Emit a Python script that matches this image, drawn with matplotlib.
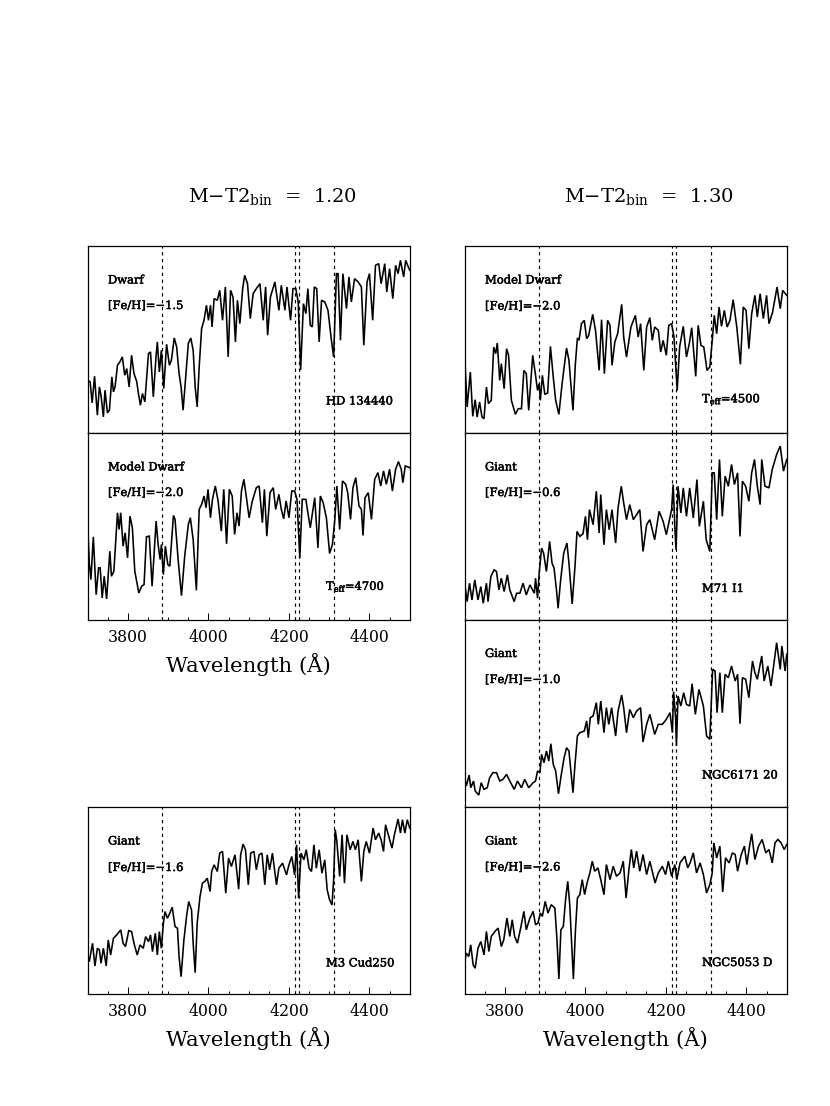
import matplotlib
matplotlib.use("Agg")
import matplotlib.pyplot as plt
import matplotlib.patheffects as pe

# ==============================
# Spectra (wavelength in A, flux in arbitrary units)
# ==============================
wave_hd134440 = [3700,3706,3711,3717,3724,3729,3733,3739,3743,3749,3754,3760,3764,3768,3774,3780,3786,3792,3797,3803,3809,3815,3822,3826,3831,3836,3842,3851,3856,3863,3870,3873,3878,3883,3889,3896,3903,3908,3915,3921,3927,3932,3937,3944,3950,3956,3962,3967,3972,3977,3983,3989,3995,4000,4005,4009,4014,4022,4028,4035,4042,4049,4055,4061,4067,4072,4078,4085,4090,4097,4104,4111,4119,4128,4136,4142,4147,4154,4165,4175,4181,4190,4195,4204,4210,4217,4223,4229,4236,4242,4247,4253,4258,4263,4269,4275,4281,4289,4297,4305,4311,4318,4322,4328,4334,4343,4349,4355,4363,4372,4380,4386,4394,4400,4408,4415,4423,4429,4438,4443,4450,4458,4465,4471,4477,4485,4490,4500]
flux_hd134440 = [157,152,89,169,52,137,112,47,127,59,67,167,122,137,202,212,227,172,192,137,232,177,152,117,82,117,92,237,242,107,232,272,182,247,132,265,202,217,284,257,177,137,67,177,267,284,247,137,77,197,312,337,382,337,382,317,402,397,427,337,437,227,427,407,272,397,327,432,472,447,342,417,432,447,337,437,292,407,452,367,442,367,437,337,432,432,392,187,387,357,432,322,317,437,432,272,397,392,367,282,227,477,477,277,477,372,467,392,462,452,437,262,452,477,337,502,507,447,507,422,492,402,502,477,517,467,517,487]

wave_model4700 = [3700,3704,3708,3714,3721,3727,3731,3736,3741,3747,3755,3759,3765,3774,3778,3782,3788,3793,3799,3805,3811,3817,3827,3834,3840,3846,3853,3860,3870,3875,3880,3883,3888,3893,3899,3904,3913,3917,3925,3933,3941,3950,3955,3962,3970,3977,3983,3989,3994,3999,4005,4010,4017,4024,4032,4038,4045,4052,4059,4065,4071,4076,4082,4088,4095,4101,4109,4119,4126,4134,4139,4145,4153,4161,4167,4175,4181,4187,4193,4200,4207,4214,4220,4227,4233,4242,4247,4253,4264,4272,4278,4285,4293,4301,4308,4314,4319,4326,4333,4341,4346,4353,4359,4366,4374,4380,4384,4389,4397,4405,4413,4421,4428,4435,4442,4450,4457,4465,4472,4479,4483,4489,4500]
flux_model4700 = [280,170,120,248,75,155,155,65,130,62,205,130,145,320,270,320,220,260,185,310,275,145,80,100,105,248,250,100,295,225,180,225,135,220,165,160,312,300,175,72,190,285,305,240,88,330,345,370,335,390,305,360,400,355,265,390,227,390,370,255,320,280,385,420,360,305,355,395,400,290,390,250,380,395,330,375,330,302,355,305,385,385,360,185,360,360,320,275,365,215,370,350,305,198,225,300,400,270,415,405,380,300,395,425,340,330,252,365,380,300,420,440,400,445,405,450,385,450,473,450,410,460,455]

wave_m3 = [3700,3704,3712,3718,3724,3729,3733,3739,3746,3751,3757,3764,3772,3782,3788,3794,3802,3809,3816,3823,3830,3838,3844,3851,3856,3861,3868,3873,3878,3883,3888,3892,3898,3904,3910,3917,3923,3927,3932,3939,3946,3951,3958,3962,3967,3972,3979,3985,3991,3997,4004,4008,4014,4022,4028,4035,4043,4050,4057,4066,4075,4080,4086,4092,4099,4105,4113,4119,4126,4133,4140,4146,4152,4159,4169,4175,4184,4194,4200,4207,4214,4219,4224,4230,4237,4243,4250,4256,4262,4268,4275,4282,4289,4295,4301,4307,4311,4315,4319,4326,4332,4338,4344,4352,4359,4365,4372,4380,4386,4392,4400,4409,4415,4423,4429,4435,4440,4448,4456,4462,4471,4477,4482,4488,4494,4500]
flux_m3 = [116,96,151,83,136,131,91,136,83,161,116,166,176,191,151,141,189,186,146,116,146,136,171,156,176,126,181,116,186,136,211,246,226,241,259,201,196,111,51,161,236,276,251,151,63,211,291,331,336,346,306,366,386,366,421,426,301,406,381,416,313,416,448,431,326,421,426,371,416,421,326,416,371,421,326,376,391,356,386,411,356,446,286,421,401,431,376,366,446,376,431,361,401,311,281,266,341,491,456,351,476,331,476,431,456,431,461,336,426,456,421,496,461,481,461,426,506,471,436,476,523,481,521,481,521,496]

wave_model4500 = [3700,3706,3714,3720,3726,3731,3737,3743,3748,3754,3759,3766,3772,3777,3781,3787,3791,3798,3804,3809,3816,3826,3833,3841,3847,3853,3859,3869,3876,3881,3885,3888,3893,3899,3906,3913,3920,3926,3934,3942,3953,3959,3969,3975,3980,3984,3990,3997,4003,4008,4018,4025,4034,4040,4047,4055,4061,4066,4073,4080,4090,4095,4102,4113,4124,4131,4137,4145,4152,4160,4166,4172,4181,4187,4193,4201,4207,4214,4220,4228,4234,4243,4251,4258,4264,4274,4280,4287,4294,4302,4309,4315,4320,4326,4332,4338,4345,4352,4359,4367,4376,4385,4392,4399,4406,4413,4421,4427,4434,4442,4450,4456,4465,4476,4484,4490,4500]
flux_model4500 = [232,77,182,49,99,47,92,47,42,137,87,97,257,237,269,157,207,132,252,232,97,55,72,72,187,177,67,232,172,127,147,97,172,115,119,259,167,97,55,147,254,217,67,207,284,277,327,337,282,292,355,307,187,339,177,337,322,202,272,297,385,287,227,317,352,287,327,187,317,345,277,317,307,242,277,232,322,327,287,127,257,319,227,267,315,169,322,262,257,187,197,277,352,297,377,319,367,317,337,399,317,205,377,367,252,357,412,347,417,342,412,327,362,437,372,427,412]

wave_m71 = [3700,3706,3712,3718,3725,3733,3740,3746,3754,3758,3765,3773,3779,3785,3791,3798,3806,3812,3823,3829,3837,3845,3853,3862,3873,3876,3881,3885,3891,3896,3903,3911,3917,3922,3928,3932,3938,3946,3954,3959,3967,3974,3979,3986,3994,4000,4005,4010,4019,4027,4034,4038,4046,4052,4059,4066,4075,4081,4089,4095,4102,4110,4119,4127,4135,4143,4152,4160,4172,4183,4193,4201,4214,4218,4222,4225,4230,4237,4243,4251,4259,4268,4277,4283,4293,4300,4309,4315,4320,4326,4333,4340,4347,4355,4363,4370,4378,4384,4390,4398,4406,4413,4420,4427,4434,4438,4446,4456,4464,4475,4484,4492,4500]
flux_m71 = [110,55,110,60,120,60,100,50,110,55,130,150,145,90,125,85,135,90,55,80,80,110,75,105,80,125,65,140,215,200,145,235,170,155,90,35,115,200,230,170,48,160,265,250,258,310,240,330,285,385,260,375,225,330,270,330,230,335,400,350,300,345,300,315,330,205,285,300,240,325,295,255,330,405,280,210,400,320,395,310,395,305,420,280,355,240,205,440,440,300,480,310,430,400,465,405,440,250,415,400,355,440,480,400,345,480,400,395,450,495,520,445,480]

wave_ngc6171 = [3700,3704,3711,3715,3722,3726,3735,3741,3748,3756,3762,3770,3779,3787,3795,3804,3812,3823,3831,3841,3849,3859,3870,3876,3881,3887,3891,3897,3903,3909,3914,3920,3926,3933,3940,3947,3953,3959,3969,3974,3980,3986,3997,4003,4007,4012,4019,4027,4032,4038,4046,4052,4058,4065,4075,4081,4090,4095,4102,4110,4119,4127,4137,4143,4152,4160,4172,4181,4191,4201,4210,4216,4219,4224,4226,4230,4237,4244,4251,4259,4265,4273,4282,4293,4301,4309,4316,4322,4327,4334,4340,4347,4355,4363,4372,4378,4384,4390,4398,4406,4415,4421,4427,4438,4444,4453,4461,4467,4475,4484,4488,4496,4500]
flux_ngc6171 = [87,62,95,57,77,47,35,72,52,57,87,102,102,77,82,97,77,52,77,57,82,57,72,77,107,102,157,132,167,137,189,127,107,39,97,147,177,167,42,127,212,222,227,257,207,267,272,312,247,317,222,297,247,297,212,287,335,297,222,292,267,287,297,194,247,277,217,247,247,262,282,222,345,267,182,332,302,342,307,302,369,277,352,302,212,202,412,407,282,402,282,397,387,422,377,397,249,387,382,327,437,402,382,452,377,422,362,417,492,412,482,407,457]

wave_ngc5053 = [3700,3704,3710,3715,3721,3726,3733,3740,3748,3754,3760,3766,3775,3783,3791,3797,3805,3812,3818,3824,3831,3839,3847,3853,3862,3870,3876,3882,3888,3893,3900,3907,3915,3924,3929,3934,3939,3945,3951,3956,3961,3970,3975,3980,3986,3992,3998,4004,4011,4017,4023,4031,4038,4046,4052,4061,4069,4077,4086,4094,4101,4108,4114,4120,4127,4135,4143,4152,4160,4173,4181,4191,4199,4206,4214,4222,4227,4235,4247,4254,4260,4268,4276,4285,4293,4301,4309,4315,4319,4326,4334,4341,4348,4357,4365,4372,4378,4387,4395,4401,4407,4413,4421,4430,4439,4448,4456,4464,4471,4478,4486,4494,4500]
flux_ngc5053 = [97,122,112,147,87,77,137,157,117,187,127,172,187,197,142,162,227,172,222,172,152,197,247,192,227,247,207,212,242,232,277,242,267,257,167,45,192,202,287,337,267,45,187,287,297,342,297,332,362,397,367,377,342,297,387,342,382,352,362,397,287,372,432,377,427,367,417,357,397,332,362,382,357,397,352,387,342,392,412,377,392,422,362,392,357,302,327,362,452,407,442,305,407,392,422,417,367,417,442,387,437,479,402,442,462,422,432,392,452,462,452,432,447]

line_waves = [3884, 4214, 4226, 4313]
tick_major = [3800, 4000, 4200, 4400]
tick_minor = [3750, 3850, 3900, 3950, 4050, 4100, 4150, 4250, 4300, 4350, 4450]

W, H = 830, 1106
SMALL = 8.3
plt.rcParams["font.family"] = "DejaVu Serif"
plt.rcParams["mathtext.fontset"] = "dejavuserif"

fig = plt.figure(figsize=(W / 100, H / 100), dpi=100)


def put_text(x, y, s, size=SMALL, ha="left", heavy=True):
    # pixel position in the page, y from the top
    t = fig.text(x / W, 1 - y / H, s, fontsize=size, ha=ha, va="center", color="black")
    if heavy:
        t.set_path_effects([pe.withStroke(linewidth=0.35, foreground="black")])


def panel(left, top, bottom, wave, flux, labelled):
    ax = fig.add_axes([left / W, 1 - bottom / H, 322 / W, (bottom - top) / H])
    ax.plot(wave, flux, color="black", lw=1.15, solid_joinstyle="miter")
    for w in line_waves:
        ax.axvline(w, color="black", lw=0.85, ls=(0, (2.8, 3)))
    ax.set_xlim(3700, 4500)
    ax.set_ylim(0, 560)
    ax.set_yticks([])
    for sp in ax.spines.values():
        sp.set_linewidth(0.9)
    if labelled:
        ax.set_xticks(tick_major)
        ax.set_xticks(tick_minor, minor=True)
        ax.tick_params(axis="x", which="major", direction="in", length=5, width=0.7,
                       labelsize=11.3, pad=6.5)
        ax.tick_params(axis="x", which="minor", direction="in", length=2.5, width=0.7)
    else:
        ax.set_xticks([])
    return ax


# coluna esquerda
panel(87.7, 246, 432.5, wave_hd134440, flux_hd134440, False)
panel(87.7, 432.5, 619.7, wave_model4700, flux_model4700, True)
panel(87.7, 806.7, 993.7, wave_m3, flux_m3, True)

# coluna direita
panel(464.7, 246, 432.7, wave_model4500, flux_model4500, False)
panel(464.7, 432.7, 620, wave_m71, flux_m71, False)
panel(464.7, 620, 806.7, wave_ngc6171, flux_ngc6171, False)
panel(464.7, 806.7, 994, wave_ngc5053, flux_ngc5053, True)

# labels inside the panels
put_text(108, 280, "Dwarf")
put_text(108, 305, "[Fe/H]=$-$1.5")
put_text(326, 401, "HD 134440")
put_text(108, 467, "Model Dwarf")
put_text(108, 492, "[Fe/H]=$-$2.0")
put_text(326, 586, r"T$_{\rm eff}$=4700")
put_text(108, 841, "Giant")
put_text(108, 867, "[Fe/H]=$-$1.6")
put_text(326, 963, "M3 Cud250")

put_text(485, 280, "Model Dwarf")
put_text(485, 305.5, "[Fe/H]=$-$2.0")
put_text(702, 398.5, r"T$_{\rm eff}$=4500")
put_text(485, 467, "Giant")
put_text(485, 492, "[Fe/H]=$-$0.6")
put_text(702, 588.5, "M71 I1")
put_text(485, 653.5, "Giant")
put_text(485, 679, "[Fe/H]=$-$1.0")
put_text(702, 775, "NGC6171 20")
put_text(485, 841, "Giant")
put_text(485, 866.5, "[Fe/H]=$-$2.6")
put_text(702, 962.5, "NGC5053 D")

# titles and axis labels
put_text(273, 196, r"M$-$T2$_{\rm bin}$  =  1.20", size=14, ha="center", heavy=False)
put_text(649, 196, r"M$-$T2$_{\rm bin}$  =  1.30", size=14, ha="center", heavy=False)
put_text(248.5, 665, "Wavelength (Å)", size=15.3, ha="center", heavy=False)
put_text(248.5, 1038, "Wavelength (Å)", size=15.3, ha="center", heavy=False)
put_text(625.5, 1038, "Wavelength (Å)", size=15.3, ha="center", heavy=False)

fig.savefig("out.png", dpi=100)
